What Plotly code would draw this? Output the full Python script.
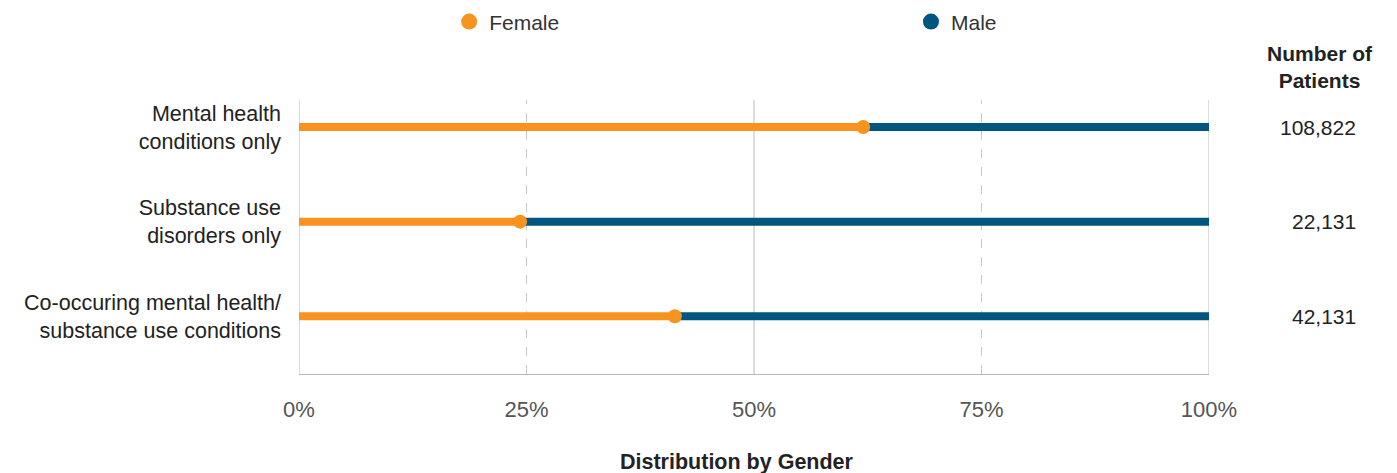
import plotly.graph_objects as go

# Patient groups, share of female patients (%) and total patient counts
categories = [
    "Mental health<br>conditions only",
    "Substance use<br>disorders only",
    "Co-occuring mental health/<br>substance use conditions",
]
female_pct = [62.0, 24.3, 41.3]
patients = ["108,822", "22,131", "42,131"]
tick_vals = [0, 25, 50, 75, 100]
tick_text = ["0%", "25%", "50%", "75%", "100%"]

ORANGE = "#F7931E"
BLUE = "#00567F"
FONT = "Liberation Sans, Arial, Helvetica, sans-serif"

fig = go.Figure()

rows = list(range(len(categories)))

for i, f in zip(rows, female_pct):
    # male share: from female cut point to 100%
    fig.add_trace(go.Scatter(x=[f, 100], y=[i, i], mode="lines",
                             line=dict(color=BLUE, width=8),
                             showlegend=False, hoverinfo="skip"))
    # female share: from 0 to cut point
    fig.add_trace(go.Scatter(x=[0, f], y=[i, i], mode="lines",
                             line=dict(color=ORANGE, width=8),
                             showlegend=False, hoverinfo="skip"))

fig.add_trace(go.Scatter(x=female_pct, y=rows, mode="markers",
                         marker=dict(color=ORANGE, size=14),
                         showlegend=False, hovertemplate="%{x:.1f}%<extra></extra>"))

# legend entries, one legend box each so they can sit far apart
fig.add_trace(go.Scatter(x=[None], y=[None], mode="markers", name="Female",
                         marker=dict(color=ORANGE, size=18), legend="legend"))
fig.add_trace(go.Scatter(x=[None], y=[None], mode="markers", name="Male",
                         marker=dict(color=BLUE, size=18), legend="legend2"))

# vertical grid / frame lines
for v in tick_vals:
    solid = v in (0, 50, 100)
    fig.add_shape(type="line", xref="x", yref="paper", x0=v, x1=v, y0=0, y1=1,
                  line=dict(color="#b9b9b9" if solid else "#c8c8c8", width=1,
                            dash="solid" if solid else "dash"),
                  layer="below")

# patient counts column
fig.add_annotation(xref="paper", yref="paper", x=1.122, y=1.122, xanchor="center",
                   yanchor="middle", align="center", showarrow=False,
                   text="<b>Number of<br>Patients</b>",
                   font=dict(size=21, color="#222", family=FONT))
for i, n in zip(rows, patients):
    fig.add_annotation(xref="paper", yref="y", x=1.1637, y=i, xanchor="right",
                       showarrow=False, text=n,
                       font=dict(size=21, color="#222", family=FONT))

fig.add_annotation(xref="paper", yref="paper", x=0.481, y=-0.321, xanchor="center",
                   yanchor="middle", showarrow=False,
                   text="<b>Distribution by Gender</b>",
                   font=dict(size=21.5, color="#222", family=FONT))

legend_style = dict(orientation="h", xanchor="left", y=1.285, yanchor="middle",
                    font=dict(size=21, color="#333"), itemsizing="trace",
                    bgcolor="rgba(0,0,0,0)")

fig.update_layout(
    width=1397, height=473,
    margin=dict(l=299, r=188, t=100, b=99, autoexpand=False),
    paper_bgcolor="white", plot_bgcolor="white",
    font=dict(family=FONT, color="#222", size=21),
    showlegend=True,
    legend=dict(x=0.165, **legend_style),
    legend2=dict(x=0.6725, **legend_style),
    xaxis=dict(range=[0, 100], tickvals=tick_vals, ticktext=tick_text,
               showgrid=False, zeroline=False, showline=True, linecolor="#b9b9b9",
               linewidth=1, ticks="", ticklabelstandoff=16,
               tickfont=dict(size=22, color="#555"), fixedrange=True),
    yaxis=dict(range=[2.61, -0.286], tickvals=rows, ticktext=categories,
               showgrid=False, zeroline=False, showline=False, ticks="",
               ticklabelstandoff=17, tickfont=dict(size=21.5, color="#222"),
               fixedrange=True),
)

fig.write_html("out.html")
